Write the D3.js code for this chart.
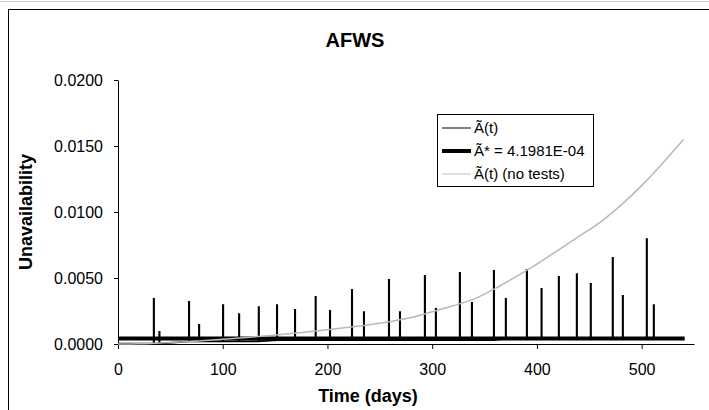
<!DOCTYPE html>
<html>
<head>
<meta charset="utf-8">
<script src="https://cdn.jsdelivr.net/npm/d3@7"></script>
<style>
  body { margin: 0; background: #fff; }
  text { font-family: "Liberation Sans", Arial, sans-serif; }
</style>
</head>
<body>
<div id="paper"></div>
<script>
// test times (days) and peak unavailability during each test
var test_days  = [34.1, 39.4, 67.7, 77.3, 100.2, 115.5, 134.3, 151.7, 168.9, 188.6,
                  202.3, 223.3, 234.7, 258.6, 269.1, 292.9, 303.4, 326.3, 337.8, 358.8,
                  370.2, 390.3, 404.3, 420.8, 438.0, 451.3, 472.3, 481.9, 504.8, 511.5]
var test_peaks = [0.00341, 0.00091, 0.00318, 0.00144, 0.00295, 0.00227, 0.00280, 0.00295, 0.00258, 0.00356,
                  0.00250, 0.00409, 0.00242, 0.00485, 0.00242, 0.00515, 0.00265, 0.00538, 0.00311, 0.00553,
                  0.00341, 0.00561, 0.00417, 0.00508, 0.00530, 0.00455, 0.00652, 0.00364, 0.00795, 0.00295]

// level of A(t) between tests (step)
var base_days = [0, 40, 145, 360]
var base_vals = [0.00003, 0.0002, 0.0003, 0.0004]
var end_day = 541

// mean unavailability
var a_star = 4.1981e-4

// A(t) with no tests
var notest_days = [0, 20, 40, 60, 80, 100, 120, 140, 160, 180, 200, 220, 240, 260, 280,
                   300, 320, 340, 360, 380, 400, 420, 440, 460, 480, 500, 520, 540]
var notest_vals = [0, 0.00002, 0.00008, 0.00015, 0.00025, 0.00036, 0.00048, 0.00061, 0.00076, 0.00091,
                   0.00108, 0.00126, 0.00146, 0.00170, 0.00200, 0.00245, 0.00290, 0.00340, 0.00420, 0.00510,
                   0.00605, 0.00710, 0.00815, 0.00920, 0.01050, 0.01200, 0.01370, 0.01550]

var x_ticks = [0, 100, 200, 300, 400, 500]
var y_ticks = [0, 0.005, 0.010, 0.015, 0.020]

var legend_labels = ['\u00C3(t)', '\u00C3* = 4.1981E-04', '\u00C3(t) (no tests)']

var W = 709, H = 410

var svg = d3.select('#paper').append('svg')
    .attr('width', W).attr('height', H)

// chart frame
svg.append('line').attr('x1', 0).attr('x2', W).attr('y1', 1.5).attr('y2', 1.5)
    .style('stroke', '#d0d0d0')
svg.append('rect')
    .attr('x', 8.5).attr('y', 9.5).attr('width', W + 20).attr('height', H + 20)
    .style('fill', 'none').style('stroke', '#000').style('stroke-width', 1)

var x = d3.scaleLinear().domain([0, 550]).range([118, 694])
var y = d3.scaleLinear().domain([0, 0.02]).range([344, 80])

function base_at(d) {
    var v = base_vals[0]
    base_days.forEach(function(b, i) { if (d >= b) v = base_vals[i] })
    return v
}

// build A(t) spikes
var at_points = [[0, base_at(0)]]
test_days.forEach(function(d, i) {
    at_points.push([d, base_at(d)])
    at_points.push([d, test_peaks[i]])
    at_points.push([d + 0.3, test_peaks[i]])
    at_points.push([d + 0.3, base_at(d)])
})
at_points.push([end_day, base_at(end_day)])

var line = d3.line().x(function(d) { return x(d[0]) }).y(function(d) { return y(d[1]) })

// axes
var yAxis = svg.append('g').attr('transform', 'translate(118,0)')
    .call(d3.axisLeft(y).tickValues(y_ticks).tickFormat(d3.format('.4f')).tickSize(4).tickSizeOuter(0))
var xAxis = svg.append('g').attr('transform', 'translate(0,344)')
    .call(d3.axisBottom(x).tickValues(x_ticks).tickSize(5).tickSizeOuter(0))

yAxis.selectAll('text').style('font-size', '16px').attr('x', -15).attr('dy', '0.35em')
xAxis.selectAll('text').style('font-size', '16px').attr('y', 20)
svg.selectAll('.domain, .tick line').style('stroke', '#000')
svg.selectAll('.tick text').style('fill', '#000')

// series
svg.append('path').datum(at_points)
    .attr('d', line)
    .style('fill', 'none').style('stroke', '#000').style('stroke-width', 1.8)

svg.append('path').datum([[0, a_star], [end_day, a_star]])
    .attr('d', line)
    .style('fill', 'none').style('stroke', '#000').style('stroke-width', 4)

svg.append('path').datum(notest_days.map(function(d, i) { return [d, notest_vals[i]] }))
    .attr('d', d3.line().curve(d3.curveMonotoneX).x(function(d) { return x(d[0]) }).y(function(d) { return y(d[1]) }))
    .style('fill', 'none').style('stroke', '#b8b8b8').style('stroke-width', 1.5)

// titles
svg.append('text').attr('x', 355).attr('y', 47).attr('text-anchor', 'middle')
    .style('font-size', '20px').style('font-weight', 'bold').text('AFWS')
svg.append('text').attr('x', 368).attr('y', 402).attr('text-anchor', 'middle')
    .style('font-size', '18px').style('font-weight', 'bold').text('Time (days)')
svg.append('text').attr('transform', 'translate(32,212) rotate(-90)').attr('text-anchor', 'middle')
    .style('font-size', '18px').style('font-weight', 'bold').text('Unavailability')

// legend
var lg = svg.append('g')
lg.append('rect').attr('x', 437.5).attr('y', 114.5).attr('width', 156).attr('height', 72)
    .style('fill', '#fff').style('stroke', '#000')
var lstyles = [{w: 1, c: '#000'}, {w: 4, c: '#000'}, {w: 1, c: '#c0c0c0'}]
legend_labels.forEach(function(t, i) {
    var yy = 128 + i * 23
    lg.append('line').attr('x1', 442).attr('x2', 471).attr('y1', yy).attr('y2', yy)
        .style('stroke', lstyles[i].c).style('stroke-width', lstyles[i].w)
    lg.append('text').attr('x', 474).attr('y', yy).attr('dy', '0.35em')
        .style('font-size', '15px').text(t)
})
</script>
</body>
</html>
